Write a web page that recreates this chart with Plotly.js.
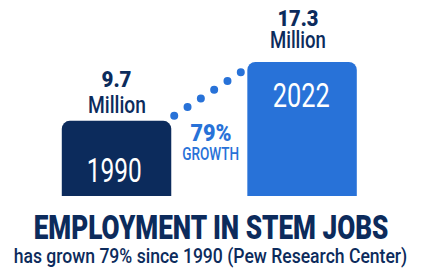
<!DOCTYPE html>
<html><head><meta charset="utf-8">
<script src="https://cdn.plot.ly/plotly-3.0.1.min.js"></script>
<style>
html,body{margin:0;padding:0;background:#fff;overflow:hidden;}
.js-line{stroke-linecap:round;}
text.annotation-text{transform-box:fill-box;transform-origin:50% 50%;}
</style>
</head><body><div id="chart" style="width:421px;height:270px;"></div>
<script>
// ---- data ----
const years = ["1990", "2022"];
const jobsMillions = [9.7, 17.3];
const valueLabels = ["9.7", "17.3"];
const unitLabel = "Million";
const growthLabel = "79%";
const growthSubLabel = "GROWTH";
const titleText = "EMPLOYMENT IN STEM JOBS";
const subtitleText = "has grown 79% since 1990 (Pew Research Center)";

// ---- style ----
const NAVY = "#0c2b5c";
const BLUE = "#2872d8";
const FONT = "Roboto, 'Noto Sans', sans-serif";
const BAR_W = 0.59;
const xPos = years.map((_, i) => i);

const bars = {
  type: "bar", x: xPos, y: jobsMillions, width: BAR_W,
  marker: { color: [NAVY, BLUE], line: { width: 0 } },
  hoverinfo: "skip", showlegend: false
};

// dotted connector from the first bar's top to the second bar's top
const connector = {
  type: "scatter", mode: "lines",
  x: [xPos[0] + BAR_W / 2 + 0.016, xPos[1] - BAR_W / 2 - 0.032],
  y: [jobsMillions[0] + 0.65, jobsMillions[1] - 1.29],
  line: { color: BLUE, width: 8, dash: "0px,15.9px" },
  hoverinfo: "skip", showlegend: false
};

// each annotation has a target rendered width and a vertical stretch (condensed, tall look)
const annotations = [];
const widths = [];
const stretch = [];
const valShift = [41, 43], unitShift = [15.5, 22], yearShift = [-49.5, -33];
const labelX = [0, -4], yearX = [-2.5, -1];
const valW = [30, 41], unitW = [58, 56], yearW = [55, 57];
xPos.forEach((x, i) => {
  annotations.push({ x: x, y: jobsMillions[i], xref: "x", yref: "y", text: valueLabels[i],
    showarrow: false, xshift: labelX[i], yshift: valShift[i], yanchor: "middle", font: { family: FONT, size: 18.5, weight: 900, color: NAVY } });
  widths.push(valW[i]); stretch.push(1.2);
  annotations.push({ x: x, y: jobsMillions[i], xref: "x", yref: "y", text: unitLabel,
    showarrow: false, xshift: labelX[i], yshift: unitShift[i], yanchor: "middle", font: { family: FONT, size: 20.5, weight: 500, color: NAVY } });
  widths.push(unitW[i]); stretch.push(1.17);
  annotations.push({ x: x, y: jobsMillions[i], xref: "x", yref: "y", text: years[i],
    showarrow: false, xshift: yearX[i], yshift: yearShift[i], yanchor: "middle", font: { family: FONT, size: 34, weight: 400, color: "#ffffff" } });
  widths.push(yearW[i]); stretch.push(1);
});
annotations.push({ x: 211 / 421, y: 1 - 133 / 270, xref: "paper", yref: "paper", text: growthLabel,
  showarrow: false, yanchor: "middle", font: { family: FONT, size: 20, weight: 900, color: BLUE } });
widths.push(41); stretch.push(1.2);
annotations.push({ x: 210.5 / 421, y: 1 - 153.3 / 270, xref: "paper", yref: "paper", text: growthSubLabel,
  showarrow: false, yanchor: "middle", font: { family: FONT, size: 16, weight: 500, color: BLUE } });
widths.push(57); stretch.push(1.16);
annotations.push({ x: 210.5 / 421, y: 1 - 227 / 270, xref: "paper", yref: "paper", text: titleText,
  showarrow: false, yanchor: "middle", font: { family: FONT, size: 34, weight: 900, color: NAVY } });
widths.push(355); stretch.push(1);
annotations.push({ x: 210 / 421, y: 1 - 256.5 / 270, xref: "paper", yref: "paper", text: subtitleText,
  showarrow: false, yanchor: "middle", font: { family: FONT, size: 19.5, weight: 500, color: NAVY } });
widths.push(394); stretch.push(1);

const layout = {
  width: 421, height: 270,
  margin: { l: 0, r: 0, t: 0, b: 0, pad: 0 },
  paper_bgcolor: "#ffffff", plot_bgcolor: "#ffffff",
  barcornerradius: 8,
  xaxis: { range: [-0.628, 1.641], visible: false, fixedrange: true },
  yaxis: { range: [-9.55, 25.29], visible: false, fixedrange: true },
  annotations: annotations,
  showlegend: false
};

Plotly.newPlot("chart", [bars, connector], layout, { staticPlot: true, displayModeBar: false }).then(gd => {
  widths.forEach((w, i) => {
    const t = gd.querySelector('.annotation[data-index="' + i + '"] text.annotation-text');
    if (!t) return;
    const bw = t.getBBox().width;
    if (bw > 0) t.style.transform = "scale(" + (w / bw) + "," + stretch[i] + ")";
  });
});
</script>
</body></html>
